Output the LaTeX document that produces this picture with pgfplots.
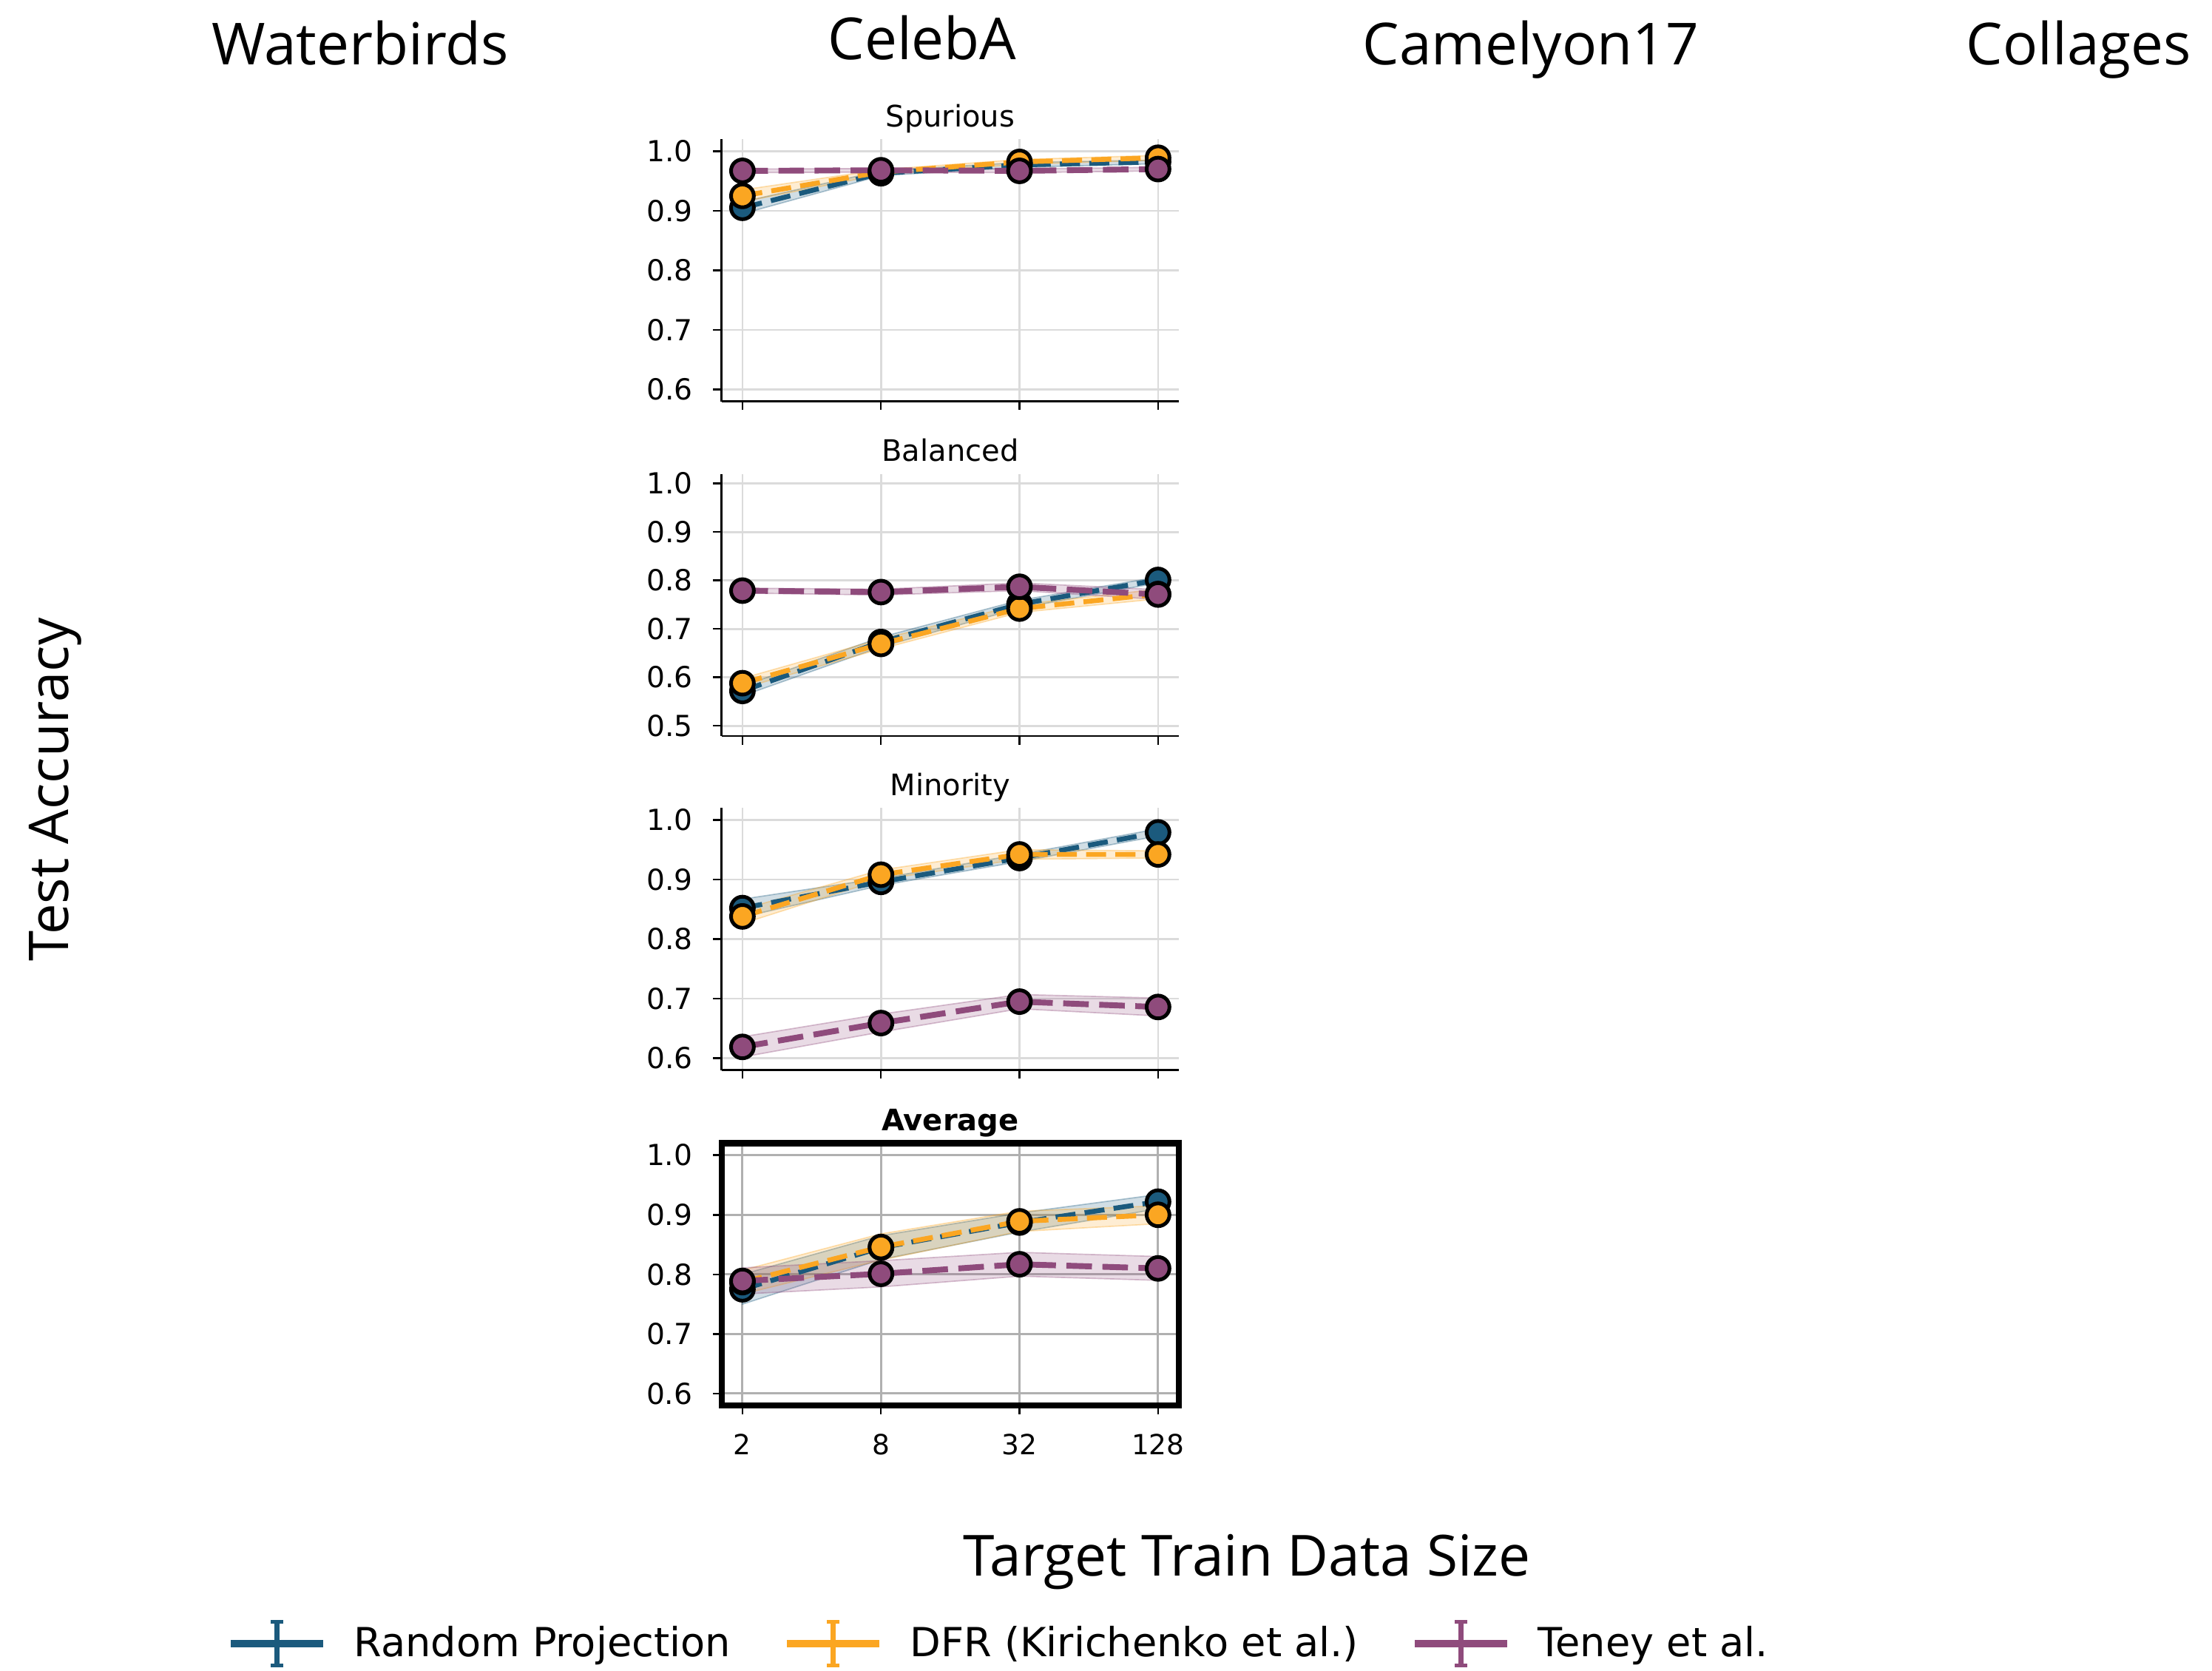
\documentclass[border=0pt]{standalone}
\usepackage{fontspec}
\setmainfont{DejaVu Sans}
\newfontfamily\osans{Open Sans}
\usepackage{pgfplots}
\pgfplotsset{compat=1.18}

\definecolor{cB}{HTML}{1B5A7D}
\definecolor{cO}{HTML}{FBA622}
\definecolor{cP}{HTML}{8F4B7C}

\pgfplotsset{
  panel/.style={
    scale only axis, width=148.37pt, height=85.06pt,
    xmin=-0.15, xmax=3.15, ymin=0.58, ymax=1.02,
    xtick={0,1,2,3}, ytick={0.6,0.7,0.8,0.9,1.0},
    xmajorgrids, ymajorgrids,
    grid style={draw=black!14, line width=0.65pt},
    tick align=outside, major tick length=2.76pt,
    major tick style={black, line width=0.6pt},
    yticklabel style={font=\fontsize{9.4}{11}\selectfont, inner sep=0pt, anchor=east, xshift=-6.5pt},
    xticklabel style={font=\fontsize{9}{11}\selectfont, inner sep=0pt, anchor=north, yshift=-6.4pt},
    /pgf/number format/fixed, /pgf/number format/precision=1,
    /pgf/number format/fixed zerofill, /pgf/number format/assume math mode=true,
    title style={font=\fontsize{9.6}{11}\selectfont, at={(0.5,1)}, anchor=base, yshift=-2pt, inner sep=0pt},
    clip=false,
  },
  spine/.style={axis x line*=bottom, axis y line*=left, axis line style={black, line width=0.65pt}, xticklabels={}},
  band/.style={draw=#1, draw opacity=0.35, line width=0.4pt, fill=#1, fill opacity=0.2, forget plot},
  ser/.style={#1, line width=1.6pt, dash pattern=on 6.5pt off 3pt, mark=*, mark size=3.7pt,
    mark options={solid, draw=black, fill=#1, line width=1.2pt}, forget plot},
  serP/.style={#1, line width=1.9pt, dash pattern=on 8.3pt off 3.4pt, mark=*, mark size=3.7pt,
    mark options={solid, draw=black, fill=#1, line width=1.2pt}, forget plot},
  legimg/.style={legend image code/.code={%
    \draw[#1, line width=2.4pt] (0pt,0pt) -- (30pt,0pt);
    \draw[#1, line width=1.6pt] (15pt,-7pt) -- (15pt,7pt);
    \draw[#1, line width=1.2pt] (13pt,-7pt) -- (17pt,-7pt);
    \draw[#1, line width=1.2pt] (13pt,7pt) -- (17pt,7pt);}},
}

\begin{document}
\begin{tikzpicture}
\useasboundingbox (0,0) rectangle (717.84pt,541.92pt);

\node[font=\osans\fontsize{18.8}{20}\selectfont, anchor=base, inner sep=0pt] at (116.9pt,520.8pt) {Waterbirds};
\node[font=\osans\fontsize{18.8}{20}\selectfont, anchor=base, inner sep=0pt] at (299.3pt,522.7pt) {CelebA};
\node[font=\osans\fontsize{18.8}{20}\selectfont, anchor=base, inner sep=0pt] at (496.8pt,520.8pt) {Camelyon17};
\node[font=\osans\fontsize{18.8}{20}\selectfont, anchor=base, inner sep=0pt] at (674.6pt,520.8pt) {Collages};
\node[font=\osans\fontsize{17.8}{19}\selectfont, anchor=base, inner sep=0pt, rotate=90] at (22.3pt,285.7pt) {Test Accuracy};
\node[font=\osans\fontsize{18.4}{20}\selectfont, anchor=base, inner sep=0pt] at (404.6pt,30.72pt) {Target Train Data Size};

% ---------- Spurious ----------
\begin{axis}[panel, spine, at={(234.19pt,411.67pt)}, anchor=south west, title={Spurious}]
\addplot[band=cB] coordinates {(0,0.915) (1,0.967) (2,0.981) (3,0.985) (3,0.979) (2,0.973) (1,0.959) (0,0.895)} -- cycle;
\addplot[band=cO] coordinates {(0,0.935) (1,0.969) (2,0.986) (3,0.993) (3,0.985) (2,0.978) (1,0.961) (0,0.915)} -- cycle;
\addplot[band=cP] coordinates {(0,0.970) (1,0.971) (2,0.970) (3,0.973) (3,0.967) (2,0.964) (1,0.965) (0,0.964)} -- cycle;
\addplot[ser=cB] coordinates {(0,0.905) (1,0.963) (2,0.977) (3,0.982)};
\addplot[ser=cO] coordinates {(0,0.925) (1,0.965) (2,0.982) (3,0.989)};
\addplot[serP=cP] coordinates {(0,0.967) (1,0.968) (2,0.967) (3,0.970)};
\end{axis}

% ---------- Balanced ----------
\begin{axis}[panel, spine, at={(234.19pt,303.12pt)}, anchor=south west, title={Balanced},
  ymin=0.479, ytick={0.5,0.6,0.7,0.8,0.9,1.0}]
\addplot[band=cB] coordinates {(0,0.582) (1,0.683) (2,0.759) (3,0.807) (3,0.795) (2,0.743) (1,0.663) (0,0.562)} -- cycle;
\addplot[band=cO] coordinates {(0,0.598) (1,0.679) (2,0.750) (3,0.782) (3,0.762) (2,0.734) (1,0.659) (0,0.578)} -- cycle;
\addplot[band=cP] coordinates {(0,0.784) (1,0.782) (2,0.795) (3,0.781) (3,0.761) (2,0.779) (1,0.770) (0,0.774)} -- cycle;
\addplot[ser=cB] coordinates {(0,0.572) (1,0.673) (2,0.751) (3,0.801)};
\addplot[ser=cO] coordinates {(0,0.588) (1,0.669) (2,0.742) (3,0.772)};
\addplot[serP=cP] coordinates {(0,0.779) (1,0.776) (2,0.787) (3,0.771)};
\end{axis}

% ---------- Minority ----------
\begin{axis}[panel, spine, at={(234.19pt,194.71pt)}, anchor=south west, title={Minority}]
\addplot[band=cB] coordinates {(0,0.867) (1,0.902) (2,0.942) (3,0.985) (3,0.973) (2,0.930) (1,0.890) (0,0.837)} -- cycle;
\addplot[band=cO] coordinates {(0,0.850) (1,0.916) (2,0.950) (3,0.948) (3,0.936) (2,0.934) (1,0.900) (0,0.826)} -- cycle;
\addplot[band=cP] coordinates {(0,0.636) (1,0.674) (2,0.707) (3,0.701) (3,0.671) (2,0.683) (1,0.644) (0,0.602)} -- cycle;
\addplot[ser=cB] coordinates {(0,0.852) (1,0.896) (2,0.936) (3,0.979)};
\addplot[ser=cO] coordinates {(0,0.838) (1,0.908) (2,0.942) (3,0.942)};
\addplot[serP=cP] coordinates {(0,0.619) (1,0.659) (2,0.695) (3,0.686)};
\end{axis}

% ---------- Average ----------
\begin{axis}[panel, at={(234.19pt,85.92pt)}, anchor=south west, title={\bfseries Average},
  axis line style={black, line width=2pt}, grid style={draw=black!31, line width=0.7pt},
  xtick pos=left, ytick pos=left, xticklabels={2,8,32,128},
  legend columns=3,
  legend style={draw=none, fill=none, inner sep=0pt, outer sep=0pt,
    at={(-1.0819,-0.9086)}, anchor=west,
    font=\fontsize{13}{15}\selectfont,
    nodes={inner sep=0pt},
    /tikz/every odd column/.style={column sep=8.8pt},
    /tikz/every even column/.style={column sep=17pt}},
  legend cell align=left]
\addplot[band=cB] coordinates {(0,0.800) (1,0.865) (2,0.903) (3,0.934) (3,0.910) (2,0.871) (1,0.825) (0,0.750)} -- cycle;
\addplot[band=cO] coordinates {(0,0.807) (1,0.868) (2,0.906) (3,0.915) (3,0.885) (2,0.872) (1,0.824) (0,0.767)} -- cycle;
\addplot[band=cP] coordinates {(0,0.811) (1,0.823) (2,0.837) (3,0.830) (3,0.790) (2,0.797) (1,0.779) (0,0.767)} -- cycle;
\addplot[ser=cB] coordinates {(0,0.775) (1,0.845) (2,0.887) (3,0.922)};
\addplot[ser=cO] coordinates {(0,0.787) (1,0.846) (2,0.889) (3,0.900)};
\addplot[serP=cP] coordinates {(0,0.789) (1,0.801) (2,0.817) (3,0.810)};
\addlegendimage{legimg=cB}
\addlegendentry{Random Projection}
\addlegendimage{legimg=cO}
\addlegendentry{DFR (Kirichenko et al.)}
\addlegendimage{legimg=cP}
\addlegendentry{Teney et al.}
\end{axis}
\end{tikzpicture}
\end{document}
